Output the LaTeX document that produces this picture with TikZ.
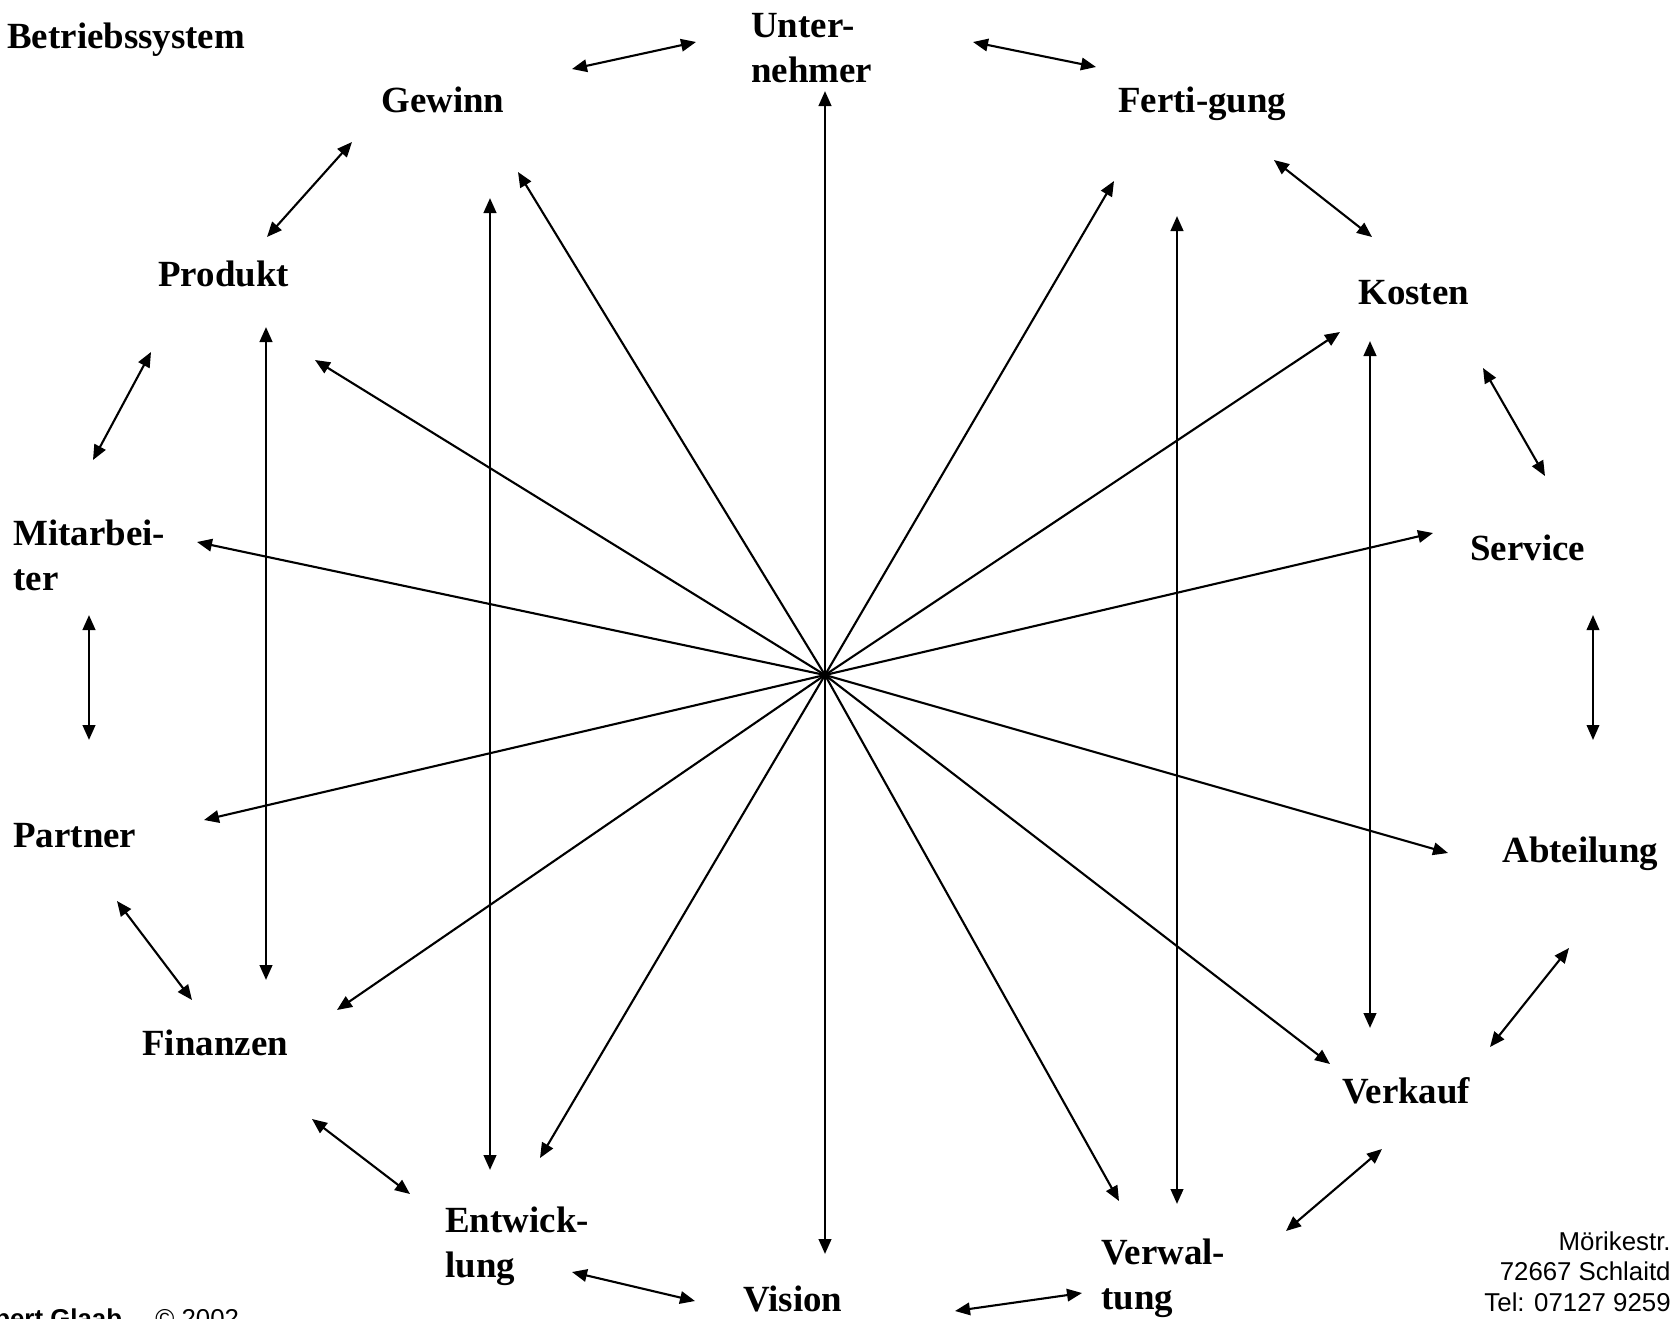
\documentclass[tikz,border=0pt]{standalone}
\usepackage{fontspec}
\setmainfont{Liberation Serif}
\setsansfont{Liberation Sans}
\usetikzlibrary{arrows.meta}
\definecolor{ink}{RGB}{0,0,0}
\def\pxunit{0.02cm}
\def\tiplen{0.3cm}
\def\tipwid{0.25cm}
\tikzset{
  lbl/.style={inner sep=0pt,anchor=base west,align=left,color=ink,font=\fontsize{21}{25.5}\selectfont\bfseries},
  foot/.style={inner sep=0pt,color=ink,font=\sffamily\fontsize{14.7}{17.3}\selectfont},
  pfeil/.style={-{Triangle[length=\tiplen,width=\tipwid]},line width=1.2pt,color=ink},
  dpfeil/.style={{Triangle[length=\tiplen,width=\tipwid]}-{Triangle[length=\tiplen,width=\tipwid]},line width=1.2pt,color=ink},
  lang/.style={line width=1.5pt},
}

\begin{document}
\begin{tikzpicture}[x=\pxunit,y=-\pxunit]
\useasboundingbox (0,0) rectangle (1671,1319);

% Begriffe (bei zwei Zeilen: Grundlinie der letzten Zeile)
\node[lbl] (titel) at (7,48) {Betriebssystem};
\node[lbl] (unt) at (751,82) {Unter-\\nehmer};
\node[lbl] (gew) at (381,112) {Gewinn};
\node[lbl] (fert) at (1118,112) {Ferti-gung};
\node[lbl] (prod) at (158,286) {Produkt};
\node[lbl] (kost) at (1358,304) {Kosten};
\node[lbl] (mit) at (13,590) {Mitarbei-\\ter};
\node[lbl] (serv) at (1470,560) {Service};
\node[lbl] (part) at (13,847) {Partner};
\node[lbl] (abt) at (1502,862) {Abteilung};
\node[lbl] (fin) at (142,1055) {Finanzen};
\node[lbl] (verk) at (1342,1103) {Verkauf};
\node[lbl] (entw) at (445,1277) {Entwick-\\lung};
\node[lbl] (vis) at (743,1311) {Vision};
\node[lbl] (verw) at (1101,1309) {Verwal-\\tung};

% Fusszeile
\node[foot,anchor=base west,font=\sffamily\bfseries\fontsize{14.7}{17.3}\selectfont] (autor) at (-6,1327) {bert Glaab};
\node[foot,anchor=base west] (jahr) at (155,1327) {© 2002};
\node[foot,anchor=base east,align=right] (adr) at (1671,1311) {Mörikestr.\\72667 Schlaitd\\Tel: 07127 9259};

% Strahlen aus der Mitte
\coordinate (mitte) at (825,675);
\foreach \n/\x/\y in {sUnt/825/91, sGew/518/172, sFert/1114/181, sProd/315/360,
    sKost/1340/332, sMit/197/542, sServ/1433/533, sPart/204/820, sAbt/1448/853,
    sFin/337/1010, sVerk/1330/1064, sEntw/540/1158, sVerw/1119/1201, sVis/825/1254}
  \coordinate (\n) at (\x,\y);
\foreach \n in {sGew,sFert,sProd,sKost,sMit,sServ,sPart,sAbt,sFin,sVerk,sEntw,sVerw}
  \draw[pfeil] (mitte) -- (\n);
\draw[pfeil,lang] (mitte) -- (sUnt);
\draw[pfeil,lang] (mitte) -- (sVis);

% senkrechte Doppelpfeile
\foreach \n/\x/\y in {gA/490/198, gB/490/1170, pA/266/327, pB/266/980,
    fA/1177/216, fB/1177/1204, kA/1370/341, kB/1370/1028}
  \coordinate (\n) at (\x,\y);
\foreach \a/\b in {gA/gB, pA/pB, fA/fB, kA/kB}
  \draw[dpfeil,lang] (\a) -- (\b);

% Doppelpfeile am Rand
\foreach \n/\x/\y in {r1a/572/69, r1b/696/42, r2a/973/42, r2b/1096/67,
    r3a/1274/160, r3b/1372/237, r4a/1483/368, r4b/1545/476,
    r5a/1593/615, r5b/1593/740, r6a/1569/948, r6b/1490/1047,
    r7a/1382/1149, r7b/1286/1231, r8a/1082/1293, r8b/955/1311,
    r9a/695/1301, r9b/572/1272, r10a/410/1194, r10b/312/1119,
    r11a/192/1000, r11b/117/901, r12a/89/615, r12b/89/740,
    r13a/151/352, r13b/93/460, r14a/352/142, r14b/267/237}
  \coordinate (\n) at (\x,\y);
\foreach \a/\b in {r1a/r1b, r2a/r2b, r3a/r3b, r4a/r4b, r5a/r5b, r6a/r6b, r7a/r7b,
    r8a/r8b, r9a/r9b, r10a/r10b, r11a/r11b, r13a/r13b, r14a/r14b}
  \draw[dpfeil] (\a) -- (\b);
\draw[dpfeil,lang] (r12a) -- (r12b);
\end{tikzpicture}
\end{document}
